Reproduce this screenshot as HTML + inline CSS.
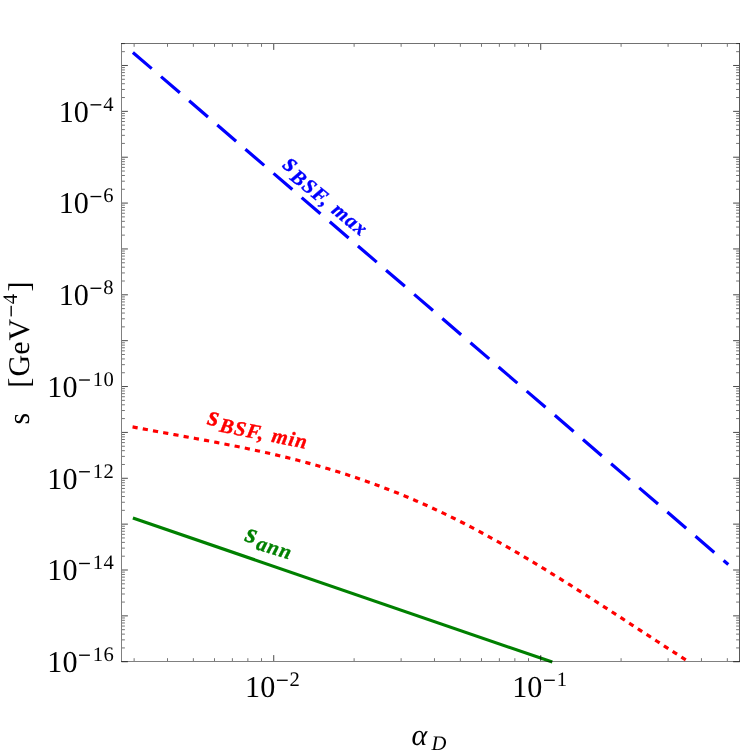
<!DOCTYPE html>
<html><head><meta charset="utf-8"><title>plot</title>
<style>html,body{margin:0;padding:0;background:#fff;}body{width:747px;height:756px;overflow:hidden;font-family:"Liberation Serif",serif;}svg{display:block;will-change:transform;text-rendering:geometricPrecision}</style>
</head><body>
<svg width="747" height="756" viewBox="0 0 747 756">
<rect width="747" height="756" fill="#fff"/>
<clipPath id="c"><rect x="121.5" y="43.5" width="618.0" height="618.4"/></clipPath>
<path d="M132.9 52.45L728.3 564.49" stroke="#0000ff" stroke-width="3.2" stroke-dasharray="24.8 12.3" fill="none"/>
<path d="M132.9 518.0L552.30 662.11" stroke="#008000" stroke-width="3.2" fill="none"/>
<path d="M132.55 426.94L136.05 427.60L139.54 428.25L143.04 428.90L146.54 429.55L150.03 430.20L153.53 430.84L157.03 431.48L160.52 432.12L164.02 432.75L167.52 433.39L171.01 434.02L174.51 434.66L178.01 435.29L181.50 435.93L185.00 436.57L188.49 437.21L191.99 437.85L195.49 438.49L198.98 439.13L202.48 439.78L205.98 440.44L209.47 441.09L212.97 441.75L216.47 442.42L219.96 443.09L223.46 443.77L226.96 444.45L230.45 445.14L233.95 445.84L237.45 446.54L240.94 447.25L244.44 447.97L247.94 448.70L251.43 449.44L254.93 450.19L258.43 450.94L261.92 451.71L265.42 452.49L268.92 453.28L272.41 454.08L275.91 454.90L279.40 455.72L282.90 456.56L286.40 457.41L289.89 458.28L293.39 459.16L296.89 460.05L300.38 460.96L303.88 461.89L307.38 462.83L310.87 463.79L314.37 464.76L317.87 465.75L321.36 466.76L324.86 467.78L328.36 468.82L331.85 469.88L335.35 470.96L338.85 472.05L342.34 473.16L345.84 474.29L349.34 475.43L352.83 476.59L356.33 477.77L359.83 478.97L363.32 480.19L366.82 481.42L370.31 482.67L373.81 483.94L377.31 485.23L380.80 486.54L384.30 487.87L387.80 489.21L391.29 490.58L394.79 491.96L398.29 493.36L401.78 494.78L405.28 496.22L408.78 497.68L412.27 499.16L415.77 500.66L419.27 502.18L422.76 503.72L426.26 505.28L429.76 506.86L433.25 508.46L436.75 510.08L440.25 511.72L443.74 513.38L447.24 515.07L450.74 516.77L454.23 518.49L457.73 520.24L461.22 522.00L464.72 523.79L468.22 525.60L471.71 527.42L475.21 529.26L478.71 531.12L482.20 533.00L485.70 534.90L489.20 536.82L492.69 538.75L496.19 540.70L499.69 542.66L503.18 544.64L506.68 546.64L510.18 548.65L513.67 550.67L517.17 552.71L520.67 554.76L524.16 556.83L527.66 558.91L531.16 561.00L534.65 563.10L538.15 565.22L541.65 567.34L545.14 569.48L548.64 571.63L552.13 573.79L555.63 575.96L559.13 578.13L562.62 580.32L566.12 582.51L569.62 584.72L573.11 586.93L576.61 589.14L580.11 591.37L583.60 593.60L587.10 595.84L590.60 598.08L594.09 600.33L597.59 602.58L601.09 604.84L604.58 607.10L608.08 609.36L611.58 611.63L615.07 613.90L618.57 616.18L622.07 618.46L625.56 620.73L629.06 623.01L632.56 625.29L636.05 627.57L639.55 629.85L643.04 632.14L646.54 634.42L650.04 636.69L653.53 638.97L657.03 641.25L660.53 643.52L664.02 645.79L667.52 648.06L671.02 650.32L674.51 652.58L678.01 654.84L681.51 657.09L685.00 659.34L688.50 661.58" stroke="#ff0000" stroke-width="3.2" stroke-dasharray="5.2 5.18" fill="none" clip-path="url(#c)"/>
<path d="M122.00 661.74h5.9M739.00 661.74h-5.9M122.00 615.87h5.9M739.00 615.87h-5.9M122.00 570.01h5.9M739.00 570.01h-5.9M122.00 524.14h5.9M739.00 524.14h-5.9M122.00 478.28h5.9M739.00 478.28h-5.9M122.00 432.41h5.9M739.00 432.41h-5.9M122.00 386.54h5.9M739.00 386.54h-5.9M122.00 340.68h5.9M739.00 340.68h-5.9M122.00 294.81h5.9M739.00 294.81h-5.9M122.00 248.95h5.9M739.00 248.95h-5.9M122.00 203.08h5.9M739.00 203.08h-5.9M122.00 157.21h5.9M739.00 157.21h-5.9M122.00 111.35h5.9M739.00 111.35h-5.9M122.00 65.48h5.9M739.00 65.48h-5.9M273.74 661.00v-5.9M273.74 44.00v5.9M540.72 661.00v-5.9M540.72 44.00v5.9" stroke="#000" stroke-width="0.72" fill="none"/>
<path d="M122.00 647.93h2.9M739.00 647.93h-2.9M122.00 639.86h2.9M739.00 639.86h-2.9M122.00 634.13h2.9M739.00 634.13h-2.9M122.00 629.68h2.9M739.00 629.68h-2.9M122.00 626.05h2.9M739.00 626.05h-2.9M122.00 622.98h2.9M739.00 622.98h-2.9M122.00 620.32h2.9M739.00 620.32h-2.9M122.00 617.97h2.9M739.00 617.97h-2.9M122.00 602.07h2.9M739.00 602.07h-2.9M122.00 593.99h2.9M739.00 593.99h-2.9M122.00 588.26h2.9M739.00 588.26h-2.9M122.00 583.82h2.9M739.00 583.82h-2.9M122.00 580.18h2.9M739.00 580.18h-2.9M122.00 577.11h2.9M739.00 577.11h-2.9M122.00 574.45h2.9M739.00 574.45h-2.9M122.00 572.11h2.9M739.00 572.11h-2.9M122.00 556.20h2.9M739.00 556.20h-2.9M122.00 548.12h2.9M739.00 548.12h-2.9M122.00 542.39h2.9M739.00 542.39h-2.9M122.00 537.95h2.9M739.00 537.95h-2.9M122.00 534.32h2.9M739.00 534.32h-2.9M122.00 531.25h2.9M739.00 531.25h-2.9M122.00 528.59h2.9M739.00 528.59h-2.9M122.00 526.24h2.9M739.00 526.24h-2.9M122.00 510.33h2.9M739.00 510.33h-2.9M122.00 502.26h2.9M739.00 502.26h-2.9M122.00 496.53h2.9M739.00 496.53h-2.9M122.00 492.08h2.9M739.00 492.08h-2.9M122.00 488.45h2.9M739.00 488.45h-2.9M122.00 485.38h2.9M739.00 485.38h-2.9M122.00 482.72h2.9M739.00 482.72h-2.9M122.00 480.37h2.9M739.00 480.37h-2.9M122.00 464.47h2.9M739.00 464.47h-2.9M122.00 456.39h2.9M739.00 456.39h-2.9M122.00 450.66h2.9M739.00 450.66h-2.9M122.00 446.22h2.9M739.00 446.22h-2.9M122.00 442.59h2.9M739.00 442.59h-2.9M122.00 439.51h2.9M739.00 439.51h-2.9M122.00 436.85h2.9M739.00 436.85h-2.9M122.00 434.51h2.9M739.00 434.51h-2.9M122.00 418.60h2.9M739.00 418.60h-2.9M122.00 410.53h2.9M739.00 410.53h-2.9M122.00 404.80h2.9M739.00 404.80h-2.9M122.00 400.35h2.9M739.00 400.35h-2.9M122.00 396.72h2.9M739.00 396.72h-2.9M122.00 393.65h2.9M739.00 393.65h-2.9M122.00 390.99h2.9M739.00 390.99h-2.9M122.00 388.64h2.9M739.00 388.64h-2.9M122.00 372.74h2.9M739.00 372.74h-2.9M122.00 364.66h2.9M739.00 364.66h-2.9M122.00 358.93h2.9M739.00 358.93h-2.9M122.00 354.49h2.9M739.00 354.49h-2.9M122.00 350.85h2.9M739.00 350.85h-2.9M122.00 347.78h2.9M739.00 347.78h-2.9M122.00 345.12h2.9M739.00 345.12h-2.9M122.00 342.78h2.9M739.00 342.78h-2.9M122.00 326.87h2.9M739.00 326.87h-2.9M122.00 318.79h2.9M739.00 318.79h-2.9M122.00 313.06h2.9M739.00 313.06h-2.9M122.00 308.62h2.9M739.00 308.62h-2.9M122.00 304.99h2.9M739.00 304.99h-2.9M122.00 301.92h2.9M739.00 301.92h-2.9M122.00 299.26h2.9M739.00 299.26h-2.9M122.00 296.91h2.9M739.00 296.91h-2.9M122.00 281.00h2.9M739.00 281.00h-2.9M122.00 272.93h2.9M739.00 272.93h-2.9M122.00 267.20h2.9M739.00 267.20h-2.9M122.00 262.75h2.9M739.00 262.75h-2.9M122.00 259.12h2.9M739.00 259.12h-2.9M122.00 256.05h2.9M739.00 256.05h-2.9M122.00 253.39h2.9M739.00 253.39h-2.9M122.00 251.04h2.9M739.00 251.04h-2.9M122.00 235.14h2.9M739.00 235.14h-2.9M122.00 227.06h2.9M739.00 227.06h-2.9M122.00 221.33h2.9M739.00 221.33h-2.9M122.00 216.89h2.9M739.00 216.89h-2.9M122.00 213.26h2.9M739.00 213.26h-2.9M122.00 210.18h2.9M739.00 210.18h-2.9M122.00 207.52h2.9M739.00 207.52h-2.9M122.00 205.18h2.9M739.00 205.18h-2.9M122.00 189.27h2.9M739.00 189.27h-2.9M122.00 181.20h2.9M739.00 181.20h-2.9M122.00 175.47h2.9M739.00 175.47h-2.9M122.00 171.02h2.9M739.00 171.02h-2.9M122.00 167.39h2.9M739.00 167.39h-2.9M122.00 164.32h2.9M739.00 164.32h-2.9M122.00 161.66h2.9M739.00 161.66h-2.9M122.00 159.31h2.9M739.00 159.31h-2.9M122.00 143.41h2.9M739.00 143.41h-2.9M122.00 135.33h2.9M739.00 135.33h-2.9M122.00 129.60h2.9M739.00 129.60h-2.9M122.00 125.16h2.9M739.00 125.16h-2.9M122.00 121.52h2.9M739.00 121.52h-2.9M122.00 118.45h2.9M739.00 118.45h-2.9M122.00 115.79h2.9M739.00 115.79h-2.9M122.00 113.45h2.9M739.00 113.45h-2.9M122.00 97.54h2.9M739.00 97.54h-2.9M122.00 89.46h2.9M739.00 89.46h-2.9M122.00 83.73h2.9M739.00 83.73h-2.9M122.00 79.29h2.9M739.00 79.29h-2.9M122.00 75.66h2.9M739.00 75.66h-2.9M122.00 72.59h2.9M739.00 72.59h-2.9M122.00 69.93h2.9M739.00 69.93h-2.9M122.00 67.58h2.9M739.00 67.58h-2.9M122.00 51.67h2.9M739.00 51.67h-2.9M122.00 43.60h2.9M739.00 43.60h-2.9M134.14 661.00v-2.8M134.14 44.00v2.8M167.50 661.00v-2.8M167.50 44.00v2.8M193.37 661.00v-2.8M193.37 44.00v2.8M214.51 661.00v-2.8M214.51 44.00v2.8M232.38 661.00v-2.8M232.38 44.00v2.8M247.87 661.00v-2.8M247.87 44.00v2.8M261.52 661.00v-2.8M261.52 44.00v2.8M354.11 661.00v-2.8M354.11 44.00v2.8M401.12 661.00v-2.8M401.12 44.00v2.8M434.48 661.00v-2.8M434.48 44.00v2.8M460.35 661.00v-2.8M460.35 44.00v2.8M481.49 661.00v-2.8M481.49 44.00v2.8M499.36 661.00v-2.8M499.36 44.00v2.8M514.85 661.00v-2.8M514.85 44.00v2.8M528.50 661.00v-2.8M528.50 44.00v2.8M621.09 661.00v-2.8M621.09 44.00v2.8M668.10 661.00v-2.8M668.10 44.00v2.8M701.46 661.00v-2.8M701.46 44.00v2.8M727.33 661.00v-2.8M727.33 44.00v2.8" stroke="#000" stroke-width="0.55" fill="none"/>
<g stroke="#000" fill="none" stroke-linecap="square"><path d="M121.5 43.5V661.7" stroke-width="0.5"/><path d="M739.5 43.5V661.7" stroke-width="0.66"/><path d="M121.5 43.5H739.5" stroke-width="0.56"/><path d="M121.5 661.5H739.5" stroke-width="0.5"/></g>
<g font-family="'Liberation Serif', serif" fill="#000">
<text transform="translate(47.30 672.14) scale(1.005 1.012)" font-size="30">10</text><rect x="79.10" y="654.54" width="10.8" height="1.35"/><text x="92.80" y="660.99" font-size="20.6" letter-spacing="0.5">16</text>
<text transform="translate(47.30 580.41) scale(1.005 1.012)" font-size="30">10</text><rect x="79.10" y="562.81" width="10.8" height="1.35"/><text x="92.80" y="569.26" font-size="20.6" letter-spacing="0.5">14</text>
<text transform="translate(47.30 488.68) scale(1.005 1.012)" font-size="30">10</text><rect x="79.10" y="471.08" width="10.8" height="1.35"/><text x="92.80" y="477.53" font-size="20.6" letter-spacing="0.5">12</text>
<text transform="translate(47.30 396.94) scale(1.005 1.012)" font-size="30">10</text><rect x="79.10" y="379.34" width="10.8" height="1.35"/><text x="92.80" y="385.79" font-size="20.6" letter-spacing="0.5">10</text>
<text transform="translate(58.70 305.21) scale(1.005 1.012)" font-size="30">10</text><rect x="90.50" y="287.61" width="10.8" height="1.35"/><text x="103.20" y="294.06" font-size="20.6" letter-spacing="0">8</text>
<text transform="translate(58.70 213.48) scale(1.005 1.012)" font-size="30">10</text><rect x="90.50" y="195.88" width="10.8" height="1.35"/><text x="103.20" y="202.33" font-size="20.6" letter-spacing="0">6</text>
<text transform="translate(58.70 121.75) scale(1.005 1.012)" font-size="30">10</text><rect x="90.50" y="104.15" width="10.8" height="1.35"/><text x="103.20" y="110.60" font-size="20.6" letter-spacing="0">4</text>
<text transform="translate(245.10 697.20) scale(1.005 1.012)" font-size="30">10</text><rect x="276.90" y="679.60" width="10.8" height="1.35"/><text x="289.60" y="686.05" font-size="20.6" letter-spacing="0">2</text>
<text transform="translate(512.20 697.20) scale(1.005 1.012)" font-size="30">10</text><rect x="544.00" y="679.60" width="10.8" height="1.35"/><text x="556.70" y="686.05" font-size="20.6" letter-spacing="0">1</text>
<text x="411.5" y="744.6" font-size="30" font-style="italic">α</text>
<text x="431.5" y="750.2" font-size="20.6" font-style="italic">D</text>
<g transform="translate(29.3 424.6) rotate(-90)">
<text x="0" y="0" font-size="30">s</text>
<text x="36.9" y="0" font-size="30">[</text>
<text x="48.1" y="0" font-size="30">Ge</text>
<text x="84.2" y="0" font-size="30">V</text>
<rect x="108.2" y="-18.8" width="10.6" height="1.35"/>
<text x="120.4" y="-12.6" font-size="20.6">4</text>
<text x="133.1" y="0" font-size="30">]</text>
</g>
</g>
<g font-family="'Liberation Serif', serif" font-weight="bold" font-style="italic">
<g transform="translate(283 166.5) rotate(39)" fill="#0000ff" stroke="#0000ff"><text x="-0.8" y="0.9" font-size="28" stroke-width="0.3">s</text><text x="12.4" y="5.6" font-size="20.6" letter-spacing="1.15" word-spacing="0.8" stroke-width="0.4">BSF, max</text></g>
<g transform="translate(207.6 423.5) rotate(11.3)" fill="#ff0000" stroke="#ff0000"><text x="-0.8" y="0.9" font-size="28" stroke-width="0.3">s</text><text x="12.4" y="5.6" font-size="20.6" letter-spacing="1.15" word-spacing="0.8" stroke-width="0.4">BSF, min</text></g>
<g transform="translate(245 540) rotate(17)" fill="#008000" stroke="#008000"><text x="-0.8" y="0.9" font-size="28" stroke-width="0.3">s</text><text x="12.4" y="5.6" font-size="20.6" letter-spacing="1.0" word-spacing="0" stroke-width="0.4">ann</text></g>
</g>
</svg>
</body></html>
